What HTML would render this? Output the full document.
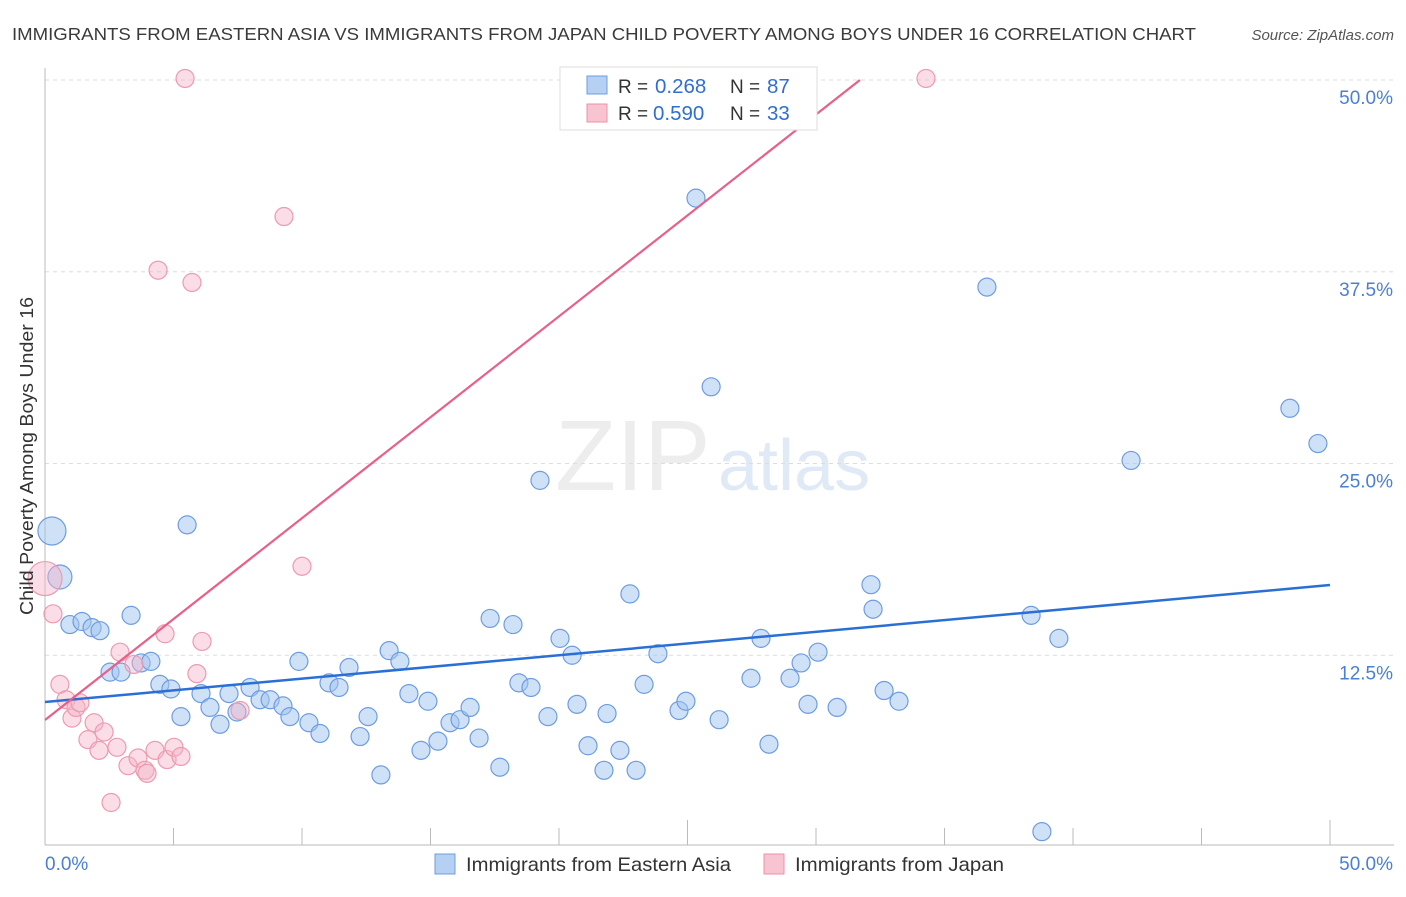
<!DOCTYPE html>
<html><head><meta charset="utf-8"><style>
body{margin:0;background:#fff;font-family:"Liberation Sans",sans-serif;}
svg text{font-family:"Liberation Sans",sans-serif;}
</style></head><body>
<svg id="chart" width="1406" height="892" xmlns="http://www.w3.org/2000/svg">
<text x="12" y="40" font-size="17.5" fill="#3a3a3a" textLength="1184" lengthAdjust="spacingAndGlyphs">IMMIGRANTS FROM EASTERN ASIA VS IMMIGRANTS FROM JAPAN CHILD POVERTY AMONG BOYS UNDER 16 CORRELATION CHART</text>
<text x="1394" y="40" font-size="15" fill="#555" text-anchor="end" font-style="italic">Source: ZipAtlas.com</text>
<g opacity="0.35">
<text x="555" y="490" font-size="100" fill="#ccc" font-family="Liberation Serif, serif">ZIP</text>
<text x="718" y="490" font-size="72" fill="#a9c4ea">atlas</text>
</g>
<g id="grid"></g>
<g id="axes"></g>
<g id="points"></g>
<g id="lines"></g>
<text transform="translate(33,456) rotate(-90)" font-size="18" fill="#333" text-anchor="middle" textLength="318" lengthAdjust="spacingAndGlyphs">Child Poverty Among Boys Under 16</text>
<g>
<rect x="560" y="67" width="257" height="63" fill="#fff" stroke="#ddd"/>
<rect x="587" y="76" width="20" height="18" fill="#b5d0f3" stroke="#6d9de0"/>
<text x="618" y="93" font-size="19" fill="#333">R =</text>
<text x="655" y="93" font-size="20.5" fill="#2f6fd0">0.268</text>
<text x="730" y="93" font-size="19" fill="#333">N =</text>
<text x="767" y="93" font-size="20.5" fill="#2f6fd0">87</text>
<rect x="587" y="104" width="20" height="18" fill="#f8c4d2" stroke="#ee8fa8"/>
<text x="618" y="120" font-size="19" fill="#333">R =</text>
<text x="653" y="120" font-size="20.5" fill="#2f6fd0">0.590</text>
<text x="730" y="120" font-size="19" fill="#333">N =</text>
<text x="767" y="120" font-size="20.5" fill="#2f6fd0">33</text>
</g>
<g>
<rect x="435" y="854" width="20" height="20" fill="#b5d0f3" stroke="#6d9de0"/>
<text x="466" y="871" font-size="19.5" fill="#333" textLength="265" lengthAdjust="spacingAndGlyphs">Immigrants from Eastern Asia</text>
<rect x="764" y="854" width="20" height="20" fill="#f8c4d2" stroke="#ee8fa8"/>
<text x="795" y="871" font-size="19.5" fill="#333" textLength="209" lengthAdjust="spacingAndGlyphs">Immigrants from Japan</text>
</g>
</svg>
<script>
const blueX=[0.27,0.58,0.97,1.44,1.83,2.14,3.35,2.53,2.96,3.74,4.12,5.53,4.47,4.90,5.29,6.07,6.42,6.81,7.16,7.47,7.98,8.37,8.76,9.26,9.53,9.88,10.27,10.70,11.05,11.44,11.83,12.26,12.57,13.07,13.39,13.81,14.16,14.63,14.90,15.29,15.76,16.15,16.54,16.89,17.32,17.70,18.21,18.44,18.91,19.26,19.57,20.04,20.51,20.70,21.13,21.75,21.87,22.37,22.76,23.00,23.31,23.85,24.67,24.94,25.33,25.92,26.23,27.47,27.86,28.17,28.99,29.42,29.69,30.08,30.82,32.14,32.22,32.65,33.23,36.65,38.37,38.79,39.45,42.26,48.44,49.53];
const blueY=[20.6,17.6,14.5,14.7,14.3,14.1,15.1,11.4,11.4,12.0,12.1,21.0,10.6,10.3,8.5,10.0,9.1,8.0,10.0,8.8,10.4,9.6,9.6,9.2,8.5,12.1,8.1,7.4,10.7,10.4,11.7,7.2,8.5,4.7,12.8,12.1,10.0,6.3,9.5,6.9,8.1,8.3,9.1,7.1,14.9,5.2,14.5,10.7,10.4,23.9,8.5,13.6,12.5,9.3,6.6,5.0,8.7,6.3,16.5,5.0,10.6,12.6,8.9,9.5,42.3,30.0,8.3,11.0,13.6,6.7,11.0,12.0,9.3,12.7,9.1,17.1,15.5,10.2,9.5,36.5,15.1,1.0,13.6,25.2,28.6,26.3];
const pinkX=[0,0.31,0.58,0.82,1.05,1.21,1.36,1.67,1.91,2.10,2.30,2.57,2.80,2.92,3.23,3.46,3.62,3.89,3.97,4.28,4.40,4.67,4.75,5.02,5.29,5.45,5.72,5.91,6.11,7.59,9.30,10.00,34.28];
const pinkY=[17.5,15.2,10.6,9.6,8.4,9.1,9.4,7.0,8.1,6.3,7.5,2.9,6.5,12.7,5.3,11.9,5.8,5.0,4.8,6.3,37.6,13.9,5.7,6.5,5.9,50.1,36.8,11.3,13.4,8.9,41.1,18.3,50.1];
const blueTrend=[9.45,17.08];
const pinkTrend=[8.28,50.0,31.71];
const yTicks=[12.5,25.0,37.5,50.0];
const xTickLabels=["0.0%","50.0%"];
const NS="http://www.w3.org/2000/svg";
const X0=45,X1=1330,Y0=847,Y50=80;
const sx=v=>X0+(X1-X0)*v/50;
const sy=v=>Y0-(Y0-Y50)*v/50;
function mk(t,a,p){const e=document.createElementNS(NS,t);for(const k in a)e.setAttribute(k,a[k]);p.appendChild(e);return e;}
const grid=document.getElementById('grid'),axes=document.getElementById('axes'),pts=document.getElementById('points'),lines=document.getElementById('lines');
yTicks.forEach(v=>{
  const g=mk('line',{x1:X0,x2:1394,y1:sy(v),y2:sy(v),stroke:'#ddd','stroke-dasharray':'4,4'},grid);
  
  
  const t=mk('text',{x:1393,y:sy(v)+24,'font-size':19,fill:'#4a7fd4','text-anchor':'end'},axes);
  t.textContent=v.toFixed(1)+'%';
  
  
});
const ax=mk('line',{x1:X0,x2:1394,y1:845,y2:845,stroke:'#bbb'},axes);


const ay=mk('line',{x1:X0,x2:X0,y1:68,y2:845,stroke:'#bbb'},axes);


for(let i=0;i<=10;i++){
  const x=sx(i*5);
  const tk=mk('line',{x1:x,x2:x,y1:i%5==0?820:828,y2:845,stroke:'#bbb'},axes);
  
  
}
const xl0=mk('text',{x:45,y:870,'font-size':19,fill:'#4a7fd4'},axes);xl0.textContent=xTickLabels[0];


const xl1=mk('text',{x:1393,y:870,'font-size':19,fill:'#4a7fd4','text-anchor':'end'},axes);xl1.textContent=xTickLabels[1];


blueX.forEach((v,i)=>{
  const r=i==0?14:(i==1?12:9);
  const c=mk('circle',{cx:sx(v),cy:sy(blueY[i]),r:r,fill:'rgba(160,196,240,0.5)',stroke:'#6d9de0','stroke-width':1.2},pts);
  
  
});
pinkX.forEach((v,i)=>{
  const r=i==0?17:9;
  const c=mk('circle',{cx:sx(v),cy:sy(pinkY[i]),r:r,fill:'rgba(245,180,200,0.45)',stroke:'#ee9ab0','stroke-width':1.2},pts);
  
  
});
const bl=mk('line',{x1:sx(0),y1:sy(blueTrend[0]),x2:sx(50),y2:sy(blueTrend[1]),stroke:'#2a6fd6','stroke-width':2.5},lines);


const pl=mk('line',{x1:sx(0),y1:sy(pinkTrend[0]),x2:sx(pinkTrend[2]),y2:sy(pinkTrend[1]),stroke:'#e8608a','stroke-width':2.2},lines);


</script>
</body></html>
